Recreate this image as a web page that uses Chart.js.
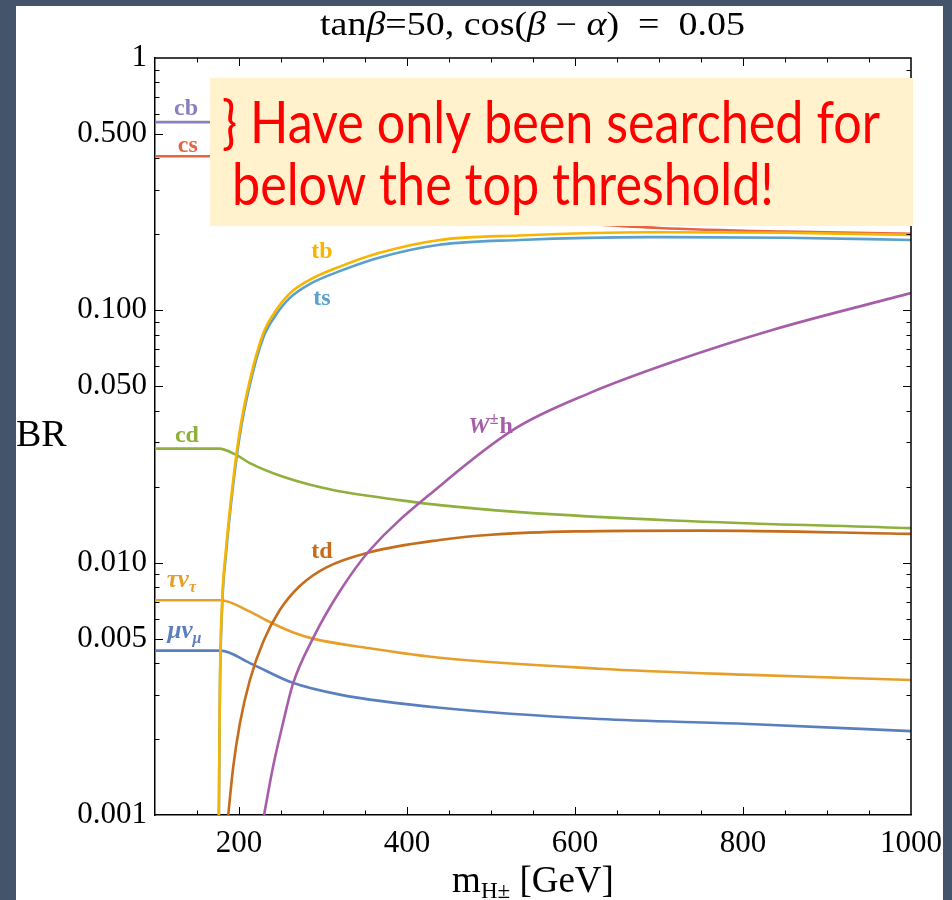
<!DOCTYPE html>
<html lang="en">
  <head>
    <meta charset="UTF-8" />
    <title>Charged Higgs branching ratios</title>
    <script src="https://cdn.jsdelivr.net/npm/chart.js@4.4.1/dist/chart.umd.min.js"></script>
    <style>
      html,
      body {
        margin: 0;
        padding: 0;
        background-color: #44546a;
      }
    </style>
  </head>
  <body>
    <canvas id="brChart" width="952" height="900"></canvas>

    <script>
      // values, BR vs m_H+ [GeV]
      const cbMass = [100, 177, 200, 300, 600, 1000];
      const cbBR = [0.557, 0.557, 0.45, 0.33, 0.27, 0.25];

      const csMass = [100, 177, 200, 300, 450, 600, 700, 850, 1000];
      const csBR = [0.408, 0.408, 0.36, 0.27, 0.24, 0.222, 0.212, 0.205, 0.201];

      const tbMass = [176, 177.3, 180, 184.4, 193.1, 201.1, 213, 228.8, 242.7, 260.5, 284, 320, 367.5, 438.8, 534, 688, 850, 1000];
      const tbBR = [0.001, 0.0033, 0.0071, 0.0112, 0.0213, 0.0336, 0.053, 0.081, 0.0985, 0.1168, 0.132, 0.149, 0.169, 0.19, 0.198, 0.204, 0.203, 0.199];

      const tsMass = [176, 177.3, 180, 184.4, 193.1, 201.1, 213, 228.8, 242.7, 260.5, 284, 320, 367.5, 438.8, 534, 688, 850, 1000];
      const tsBR = [0.00096, 0.0031, 0.0068, 0.0107, 0.0204, 0.0322, 0.0508, 0.0778, 0.0945, 0.112, 0.127, 0.143, 0.162, 0.182, 0.19, 0.195, 0.194, 0.19];

      const cdMass = [100, 176, 197, 213, 252.5, 312, 391, 439, 530, 716, 1000];
      const cdBR = [0.0283, 0.0283, 0.0267, 0.0248, 0.0219, 0.0194, 0.0177, 0.0169, 0.0159, 0.0147, 0.0137];

      const tdMass = [187.2, 193.1, 201.1, 213, 228.8, 248.6, 272.4, 304.1, 355.6, 438.9, 500, 600, 750, 1000];
      const tdBR = [0.001, 0.00155, 0.00231, 0.00343, 0.00486, 0.00649, 0.00808, 0.00958, 0.011, 0.0123, 0.0129, 0.0133, 0.0134, 0.013];

      const whMass = [229.8, 240.3, 252.2, 264.1, 287.9, 320, 355.6, 438.9, 530, 617.2, 715.9, 834.8, 1000];
      const whBR = [0.001, 0.00154, 0.0023, 0.0033, 0.005, 0.0077, 0.0112, 0.0201, 0.0342, 0.047, 0.0624, 0.0836, 0.117];

      const tauMass = [100, 178, 213, 233, 264, 288, 359, 439, 629, 800, 1000];
      const tauBR = [0.0071, 0.0071, 0.0064, 0.0059, 0.0053, 0.005, 0.00456, 0.0042, 0.0038, 0.0036, 0.00343];

      const muMass = [100, 178, 213, 264, 320, 439, 629, 800, 1000];
      const muBR = [0.00448, 0.00448, 0.004, 0.00334, 0.003, 0.00266, 0.0024, 0.0023, 0.00215];

      const xTicks = [100, 150, 200, 250, 300, 350, 400, 450, 500, 550, 600, 650, 700, 750, 800, 850, 900, 950, 1000];
      const xLabels = [200, 400, 600, 800, 1000];
      const yTicks = [
        0.001, 0.002, 0.003, 0.004, 0.005, 0.006, 0.007, 0.008, 0.009,
        0.01, 0.02, 0.03, 0.04, 0.05, 0.06, 0.07, 0.08, 0.09,
        0.1, 0.2, 0.3, 0.4, 0.5, 0.6, 0.7, 0.8, 0.9, 1,
      ];
      const yLabels = { 0.001: "0.001", 0.005: "0.005", 0.01: "0.010", 0.05: "0.050", 0.1: "0.100", 0.5: "0.500", 1: "1" };

      const SERIF = '"Liberation Serif", "DejaVu Serif", serif';

      function pts(ms, brs) {
        return ms.map((m, i) => ({ x: m, y: brs[i] }));
      }

      function line(data, color) {
        return {
          data: data,
          borderColor: color,
          borderWidth: 2.6,
          pointRadius: 0,
          fill: false,
          cubicInterpolationMode: "monotone",
        };
      }

      // curve labels, anchored in data coordinates (mass, BR) at the text baseline
      const curveLabels = [
        { text: "cb", m: 137, br: 0.594, color: "#8b7fc0" },
        { text: "cs", m: 139, br: 0.424, color: "#e4653f" },
        { text: "tb", m: 298.6, br: 0.161, color: "#f7b500" },
        { text: "ts", m: 298.6, br: 0.105, color: "#5b9fcc" },
        { text: "cd", m: 138, br: 0.0301, color: "#8fb03c" },
        { text: "td", m: 298.6, br: 0.0104, color: "#c56d1c" },
      ];

      const framePlugin = {
        id: "frame",
        beforeDraw(chart) {
          const ctx = chart.ctx;
          ctx.save();
          ctx.fillStyle = "#44546a";
          ctx.fillRect(0, 0, chart.width, chart.height);
          ctx.fillStyle = "#ffffff";
          ctx.fillRect(16, 6, 927, 894);
          ctx.restore();
        },
        afterDraw(chart) {
          const ctx = chart.ctx;
          const a = chart.chartArea;
          const xs = chart.scales.x;
          const ys = chart.scales.y;

          // frame and inward ticks
          ctx.save();
          ctx.strokeStyle = "#000";
          ctx.lineWidth = 1.5;
          ctx.beginPath();
          ctx.moveTo(a.left, a.top);
          ctx.lineTo(a.right, a.top);
          ctx.lineTo(a.right, a.bottom);
          ctx.stroke();
          ctx.lineWidth = 1;
          ctx.beginPath();
          xTicks.forEach((v) => {
            if (v === 100 || v === 1000) return;
            const px = Math.round(xs.getPixelForValue(v)) + 0.5;
            const len = xLabels.includes(v) ? 8 : 4.5;
            ctx.moveTo(px, a.bottom);
            ctx.lineTo(px, a.bottom - len);
            ctx.moveTo(px, a.top);
            ctx.lineTo(px, a.top + len);
          });
          yTicks.forEach((v) => {
            if (v === 0.001 || v === 1) return;
            const py = Math.round(ys.getPixelForValue(v)) + 0.5;
            const len = yLabels[v] ? 8 : 4.5;
            ctx.moveTo(a.left, py);
            ctx.lineTo(a.left + len, py);
            ctx.moveTo(a.right, py);
            ctx.lineTo(a.right - len, py);
          });
          ctx.stroke();
          ctx.restore();

          // note box
          ctx.save();
          ctx.fillStyle = "#fff2cc";
          ctx.fillRect(210, 78, 703, 148);
          ctx.fillStyle = "#ff0000";
          ctx.font = '58px Lato, "Open Sans", sans-serif';
          ctx.textBaseline = "alphabetic";
          const l1 = "} Have only been searched for";
          const l2 = "below the top threshold!";
          const sx = 658 / ctx.measureText(l1).width;
          ctx.save();
          ctx.translate(222, 143);
          ctx.scale(sx, 1);
          ctx.fillText(l1, 0, 0);
          ctx.restore();
          ctx.save();
          ctx.translate(232, 205);
          ctx.scale(sx, 1);
          ctx.fillText(l2, 0, 0);
          ctx.restore();
          ctx.restore();

          // curve labels
          ctx.save();
          ctx.textBaseline = "alphabetic";
          ctx.textAlign = "center";
          ctx.font = "bold 24px " + SERIF;
          curveLabels.forEach((l) => {
            ctx.fillStyle = l.color;
            ctx.fillText(l.text, xs.getPixelForValue(l.m), ys.getPixelForValue(l.br));
          });
          // W±h
          ctx.textAlign = "left";
          ctx.fillStyle = "#a65ea8";
          let px = xs.getPixelForValue(473);
          let py = ys.getPixelForValue(0.0327);
          ctx.font = "bold italic 24px " + SERIF;
          ctx.fillText("W", px, py);
          px += ctx.measureText("W").width;
          ctx.font = "bold 16px " + SERIF;
          ctx.fillText("±", px, py - 9);
          px += ctx.measureText("±").width + 1;
          ctx.font = "bold 24px " + SERIF;
          ctx.fillText("h", px, py);
          // tau nu, mu nu
          const nus = [
            { a: "τν", b: "τ", m: 114, br: 0.008, color: "#e69f2a" },
            { a: "μν", b: "μ", m: 115, br: 0.00503, color: "#5a7fbe" },
          ];
          nus.forEach((n) => {
            ctx.fillStyle = n.color;
            let x = xs.getPixelForValue(n.m);
            const y = ys.getPixelForValue(n.br);
            ctx.font = "bold italic 25px " + SERIF;
            ctx.fillText(n.a, x, y);
            x += ctx.measureText(n.a).width;
            ctx.font = "bold italic 16px " + SERIF;
            ctx.fillText(n.b, x, y + 5);
          });
          ctx.restore();

          // title, stretched to the reference width
          ctx.save();
          ctx.fillStyle = "#000";
          ctx.textBaseline = "alphabetic";
          ctx.textAlign = "left";
          const parts = [
            ["tan", false],
            ["β", true],
            ["=50, cos(", false],
            ["β", true],
            [" − ", false],
            ["α", true],
            [")  =  0.05", false],
          ];
          const fontOf = (it) => (it ? "italic " : "") + "33px " + SERIF;
          let total = 0;
          parts.forEach((p) => {
            ctx.font = fontOf(p[1]);
            total += ctx.measureText(p[0]).width;
          });
          const tsx = 425 / total;
          ctx.translate(320, 35);
          ctx.scale(tsx, 1);
          let tx = 0;
          parts.forEach((p) => {
            ctx.font = fontOf(p[1]);
            ctx.fillText(p[0], tx, 0);
            tx += ctx.measureText(p[0]).width;
          });
          ctx.restore();

          // x axis title
          ctx.save();
          ctx.fillStyle = "#000";
          ctx.textBaseline = "alphabetic";
          ctx.textAlign = "left";
          ctx.font = "37px " + SERIF;
          const wM = ctx.measureText("m").width;
          const wG = ctx.measureText(" [GeV]").width;
          ctx.font = "23px " + SERIF;
          const wH = ctx.measureText("H±").width;
          let ax = 533 - (wM + wH + wG) / 2;
          ctx.font = "37px " + SERIF;
          ctx.fillText("m", ax, 892);
          ax += wM;
          ctx.font = "23px " + SERIF;
          ctx.fillText("H±", ax, 898);
          ax += wH;
          ctx.font = "37px " + SERIF;
          ctx.fillText(" [GeV]", ax, 892);

          // y axis title
          ctx.font = "38px " + SERIF;
          ctx.fillText("BR", 16, 446);
          ctx.restore();
        },
      };

      const ctx = document.getElementById("brChart").getContext("2d");
      new Chart(ctx, {
        type: "line",
        data: {
          datasets: [
            line(pts(tbMass, tbBR), "#f7b500"),
            line(pts(tsMass, tsBR), "#5b9fcc"),
            line(pts(whMass, whBR), "#a65ea8"),
            line(pts(tdMass, tdBR), "#c56d1c"),
            line(pts(muMass, muBR), "#5a7fbe"),
            line(pts(tauMass, tauBR), "#e69f2a"),
            line(pts(cdMass, cdBR), "#8fb03c"),
            line(pts(csMass, csBR), "#e4653f"),
            line(pts(cbMass, cbBR), "#8b7fc0"),
          ],
        },
        options: {
          responsive: false,
          animation: false,
          events: [],
          layout: { padding: { left: 16, top: 58, right: 40, bottom: 0 } },
          plugins: {
            legend: { display: false },
            tooltip: { enabled: false },
          },
          scales: {
            x: {
              type: "linear",
              min: 100,
              max: 1000,
              afterBuildTicks: (s) => {
                s.ticks = xTicks.map((v) => ({ value: v }));
              },
              afterFit: (s) => {
                s.height = 85;
              },
              ticks: {
                autoSkip: false,
                maxRotation: 0,
                padding: 10,
                color: "#000",
                font: { family: SERIF, size: 31 },
                callback: (v) => (xLabels.includes(v) ? String(v) : ""),
              },
              grid: { drawOnChartArea: false, drawTicks: false },
              border: { display: true, color: "#000", width: 1.5 },
            },
            y: {
              type: "logarithmic",
              min: 0.001,
              max: 1,
              afterBuildTicks: (s) => {
                s.ticks = yTicks.map((v) => ({ value: v }));
              },
              afterFit: (s) => {
                s.width = 139;
              },
              ticks: {
                autoSkip: false,
                padding: 8,
                color: "#000",
                font: { family: SERIF, size: 31 },
                callback: (v) => yLabels[v] || "",
              },
              grid: { drawOnChartArea: false, drawTicks: false },
              border: { display: true, color: "#000", width: 1.5 },
            },
          },
        },
        plugins: [framePlugin],
      });
    </script>
  </body>
</html>
